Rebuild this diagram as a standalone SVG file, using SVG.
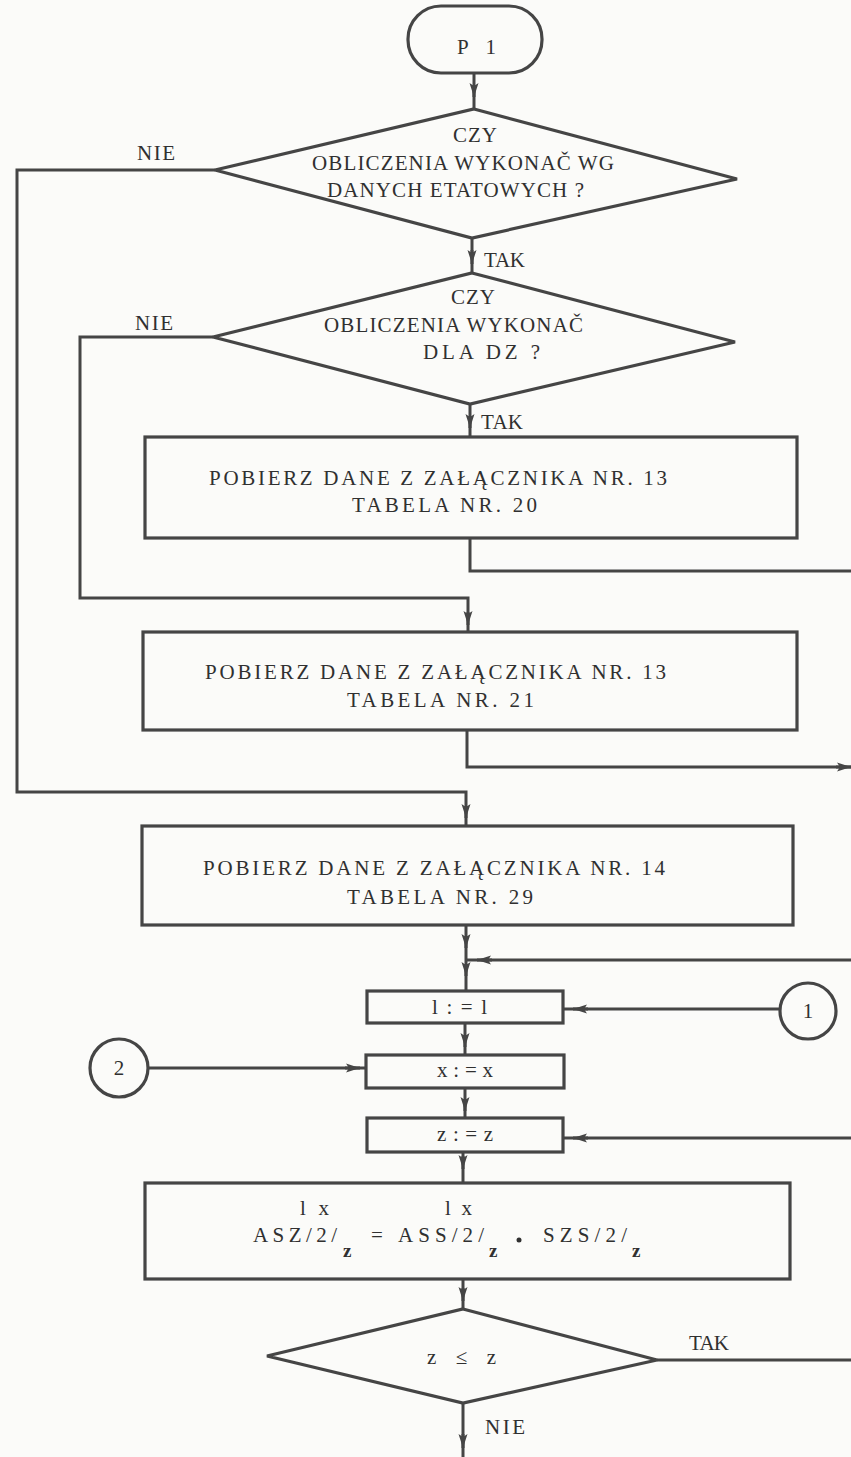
<svg xmlns="http://www.w3.org/2000/svg" width="851" height="1457" viewBox="0 0 851 1457">
<style>
.s{fill:none;stroke:#454545;stroke-width:3;stroke-linejoin:miter}
.n{fill:#fbfbf9;stroke:#454545;stroke-width:3.2}
.t{font-family:"Liberation Serif","DejaVu Serif",serif;font-size:21px;fill:#303030}
.c{text-anchor:middle}
.sub{font-family:"Liberation Serif","DejaVu Serif",serif;font-size:19px;font-weight:bold;fill:#303030}
.a{fill:none;stroke:#454545;stroke-width:3;marker-end:url(#ah)}
</style>
<defs>
<marker id="ah" markerUnits="userSpaceOnUse" markerWidth="16" markerHeight="10" refX="14" refY="5" orient="auto">
<path d="M0,0.5 L14,5 L0,9.5 L3,5 Z" fill="#454545"/>
</marker>
</defs>
<rect width="851" height="1457" fill="#fbfbf9"/>
<g id="connectors">
<path class="s" d="M474,73 V109"/>
<path class="a" d="M474,85 V97"/>
<path class="s" d="M472,238 V273"/>
<path class="a" d="M472,250 V264"/>
<path class="s" d="M470,404 V437"/>
<path class="a" d="M470,416 V428"/>
<path class="s" d="M470,538 V571 H851"/>
<path class="s" d="M213,337 H80 V598 H468 V632"/>
<path class="a" d="M468,612 V625"/>
<path class="s" d="M467,730 V767 H851"/>
<path class="a" d="M836,767 H851"/>
<path class="s" d="M215,170 H17 V792 H466 V826"/>
<path class="a" d="M466,806 V818"/>
<path class="s" d="M466,925 V991"/>
<path class="a" d="M466,936 V948"/>
<path class="a" d="M466,964 V976"/>
<path class="s" d="M851,960 H466"/>
<path class="a" d="M492,960 H477"/>
<path class="s" d="M780,1009 H563"/>
<path class="a" d="M588,1009 H573"/>
<path class="s" d="M465,1023 V1055"/>
<path class="a" d="M465,1035 V1047"/>
<path class="s" d="M148,1068 H366"/>
<path class="a" d="M345,1068 H360"/>
<path class="s" d="M465,1088 V1118"/>
<path class="a" d="M465,1099 V1111"/>
<path class="s" d="M851,1138 H563"/>
<path class="a" d="M588,1138 H573"/>
<path class="s" d="M463,1152 V1183"/>
<path class="a" d="M463,1156 V1169"/>
<path class="s" d="M463,1280 V1309"/>
<path class="a" d="M463,1288 V1301"/>
<path class="s" d="M657,1360 H851"/>
<path class="s" d="M463,1403 V1457"/>
<path class="a" d="M463,1434 V1448"/>
</g>
<g id="start">
<rect class="n" x="408" y="6" width="134" height="67" rx="33"/>
<text class="t" x="457" y="54" textLength="39" lengthAdjust="spacing">P 1</text>
</g>
<g id="decision1">
<polygon class="n" points="474,109 737,179 472,238 215,170"/>
<text class="t" x="453" y="142" textLength="44" lengthAdjust="spacing">CZY</text>
<text class="t" x="312" y="170" textLength="302" lengthAdjust="spacing">OBLICZENIA WYKONAČ WG</text>
<text class="t" x="327" y="197" textLength="257" lengthAdjust="spacing">DANYCH ETATOWYCH ?</text>
<text class="t" x="137" y="160" textLength="38" lengthAdjust="spacing">NIE</text>
<text class="t" x="484" y="267" textLength="41" lengthAdjust="spacing">TAK</text>
</g>
<g id="decision2">
<polygon class="n" points="472,273 735,342 470,404 213,337"/>
<text class="t" x="451" y="304" textLength="44" lengthAdjust="spacing">CZY</text>
<text class="t" x="324" y="332" textLength="259" lengthAdjust="spacing">OBLICZENIA WYKONAČ</text>
<text class="t" x="423" y="359" textLength="117" lengthAdjust="spacing">DLA DZ ?</text>
<text class="t" x="135" y="330" textLength="38" lengthAdjust="spacing">NIE</text>
<text class="t" x="481" y="429" textLength="42" lengthAdjust="spacing">TAK</text>
</g>
<g id="box1">
<rect class="n" x="145" y="437" width="652" height="101"/>
<text class="t" x="209" y="485" textLength="458" lengthAdjust="spacing">POBIERZ DANE Z ZAŁĄCZNIKA NR. 13</text>
<text class="t" x="352" y="512" textLength="185" lengthAdjust="spacing">TABELA NR. 20</text>
</g>
<g id="box2">
<rect class="n" x="143" y="632" width="654" height="98"/>
<text class="t" x="205" y="679" textLength="461" lengthAdjust="spacing">POBIERZ DANE Z ZAŁĄCZNIKA NR. 13</text>
<text class="t" x="347" y="707" textLength="187" lengthAdjust="spacing">TABELA NR. 21</text>
</g>
<g id="box3">
<rect class="n" x="142" y="826" width="651" height="99"/>
<text class="t" x="203" y="875" textLength="462" lengthAdjust="spacing">POBIERZ DANE Z ZAŁĄCZNIKA NR. 14</text>
<text class="t" x="347" y="904" textLength="186" lengthAdjust="spacing">TABELA NR. 29</text>
</g>
<g id="assign-l">
<rect class="n" x="367" y="991" width="196" height="32"/>
<text class="t" x="432" y="1014" textLength="55" lengthAdjust="spacing">l:=l</text>
</g>
<g id="connector1">
<circle class="n" cx="808" cy="1011" r="28"/>
<text class="t c" x="808" y="1018">1</text>
</g>
<g id="connector2">
<circle class="n" cx="119" cy="1068" r="29"/>
<text class="t c" x="119" y="1075">2</text>
</g>
<g id="assign-x">
<rect class="n" x="366" y="1055" width="198" height="33"/>
<text class="t" x="437" y="1077" textLength="56" lengthAdjust="spacing">x:=x</text>
</g>
<g id="assign-z">
<rect class="n" x="367" y="1118" width="196" height="34"/>
<text class="t" x="437" y="1141" textLength="56" lengthAdjust="spacing">z:=z</text>
</g>
<g id="formula">
<rect class="n" x="145" y="1183" width="645" height="96"/>
<text class="t" x="300" y="1215" textLength="29" lengthAdjust="spacing">lx</text>
<text class="t" x="445" y="1215" textLength="27" lengthAdjust="spacing">lx</text>
<text class="t" x="253" y="1242" textLength="84" lengthAdjust="spacing">ASZ/2/</text>
<text class="sub" x="343" y="1257">z</text>
<text class="t" x="371" y="1242">=</text>
<text class="t" x="398" y="1242" textLength="86" lengthAdjust="spacing">ASS/2/</text>
<text class="sub" x="489" y="1257">z</text>
<circle cx="519" cy="1240" r="2.5" fill="#303030"/>
<text class="t" x="543" y="1242" textLength="84" lengthAdjust="spacing">SZS/2/</text>
<text class="sub" x="632" y="1257">z</text>
</g>
<g id="decision3">
<polygon class="n" points="463,1309 657,1360 463,1403 267,1356"/>
<text class="t" x="427" y="1364" textLength="69" lengthAdjust="spacing">z ≤ z</text>
<text class="t" x="689" y="1350" textLength="40" lengthAdjust="spacing">TAK</text>
<text class="t" x="485" y="1434" textLength="40" lengthAdjust="spacing">NIE</text>
</g>
</svg>
